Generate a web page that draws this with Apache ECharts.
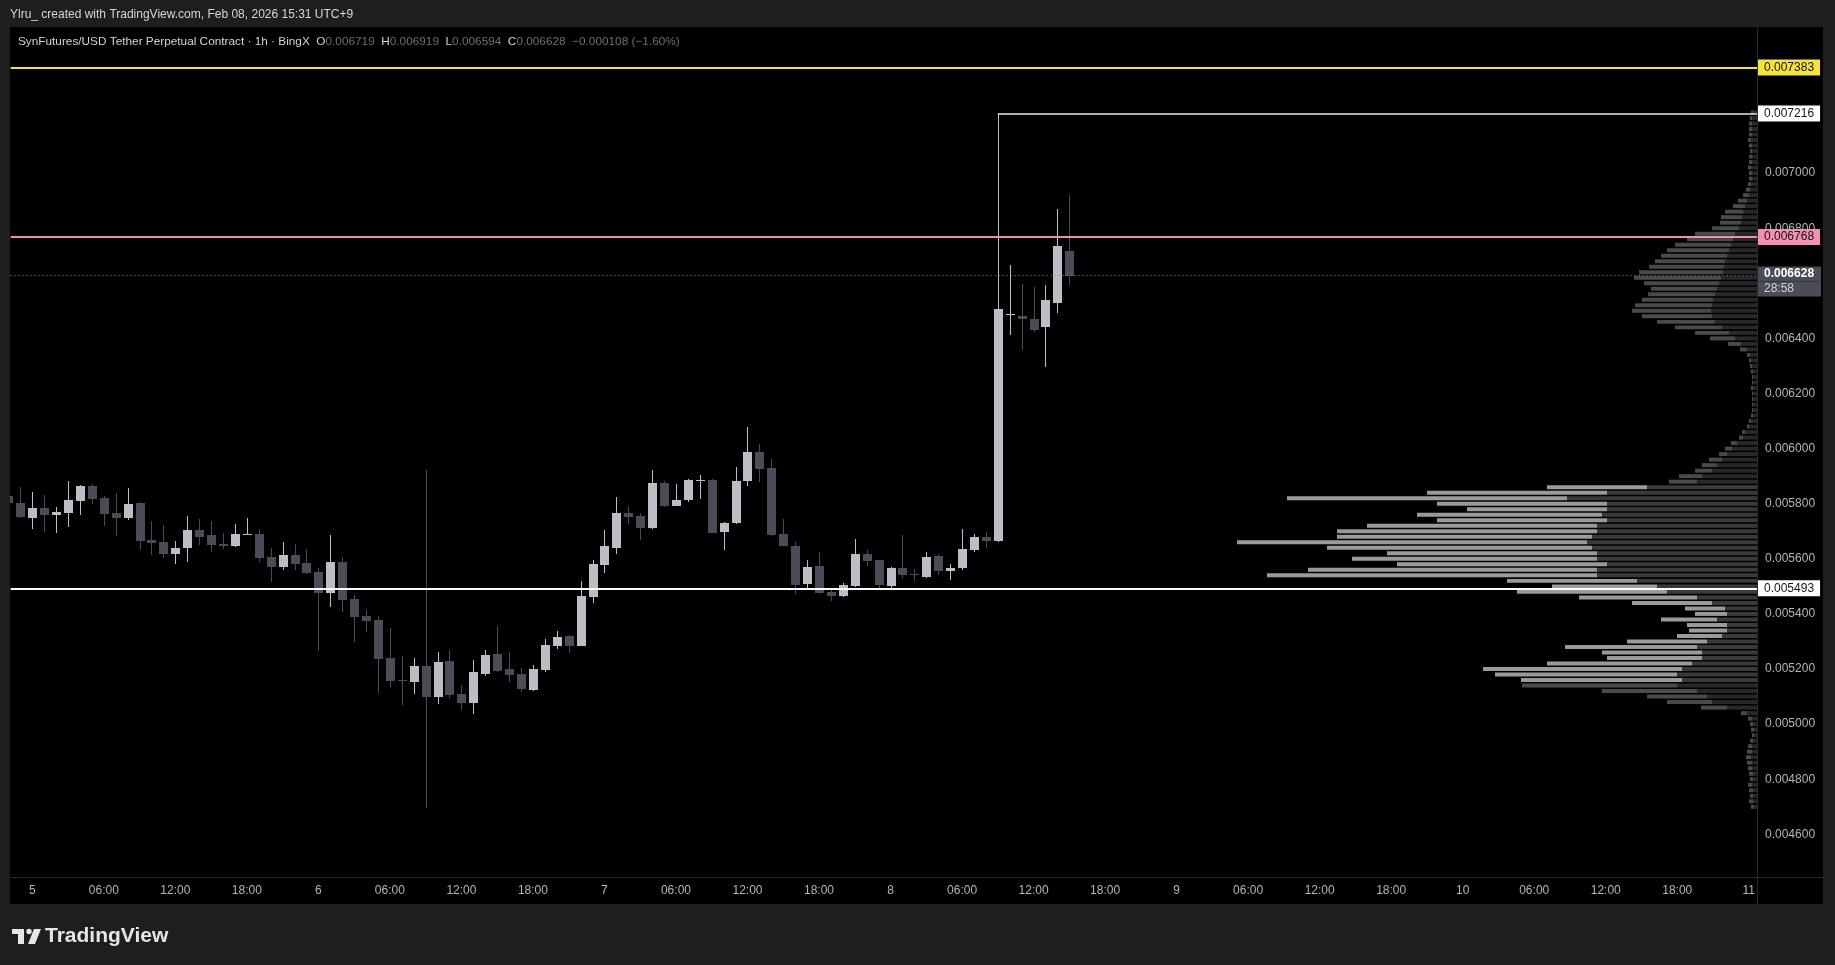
<!DOCTYPE html>
<html>
<head>
<meta charset="utf-8">
<title>SynFutures/USD Tether Perpetual Contract · 1h</title>
<script src="https://cdn.jsdelivr.net/npm/echarts@6/dist/echarts.min.js"></script>
<style>
  html, body { margin: 0; padding: 0; background: #1e1e1e; }
  #chart { width: 1835px; height: 965px; }
</style>
</head>
<body>
<div id="chart"></div>
<script>
// hourly candles, x = hours from Feb 5 00:00 (UTC+9); first candle is Feb 4 22:00
const firstHour = -2;
const opens = [
  0.005828, 0.005803, 0.005749, 0.005783, 0.005760, 0.005768, 0.005811, 0.005864, 0.005821, 0.005766,
  0.005748, 0.005803, 0.005668, 0.005661, 0.005618, 0.005639, 0.005705, 0.005687, 0.005654, 0.005647,
  0.005687, 0.005690, 0.005607, 0.005570, 0.005614, 0.005585, 0.005552, 0.005476, 0.005589, 0.005454,
  0.005393, 0.005378, 0.005240, 0.005162, 0.005154, 0.005211, 0.005100, 0.005229, 0.005109, 0.005078,
  0.005182, 0.005255, 0.005200, 0.005182, 0.005124, 0.005197, 0.005284, 0.005320, 0.005284, 0.005461,
  0.005578, 0.005639, 0.005766, 0.005755, 0.005712, 0.005875, 0.005792, 0.005813, 0.005882, 0.005886,
  0.005697, 0.005730, 0.005882, 0.005988, 0.005930, 0.005690, 0.005647, 0.005509, 0.005574, 0.005480,
  0.005465, 0.005501, 0.005618, 0.005596, 0.005501, 0.005567, 0.005544, 0.005534, 0.005610, 0.005557,
  0.005567, 0.005632, 0.005679, 0.005665, 0.006486, 0.006481, 0.006470, 0.006443, 0.006530, 0.006719
];
const closes = [
  0.005801, 0.005753, 0.005783, 0.005760, 0.005770, 0.005814, 0.005864, 0.005818, 0.005764, 0.005749,
  0.005799, 0.005666, 0.005659, 0.005618, 0.005639, 0.005705, 0.005679, 0.005650, 0.005648, 0.005690,
  0.005690, 0.005603, 0.005570, 0.005614, 0.005581, 0.005549, 0.005476, 0.005589, 0.005452, 0.005390,
  0.005376, 0.005238, 0.005158, 0.005158, 0.005211, 0.005100, 0.005226, 0.005106, 0.005078, 0.005189,
  0.005251, 0.005193, 0.005178, 0.005128, 0.005200, 0.005287, 0.005316, 0.005284, 0.005465, 0.005581,
  0.005647, 0.005766, 0.005752, 0.005712, 0.005875, 0.005792, 0.005813, 0.005886, 0.005886, 0.005694,
  0.005730, 0.005882, 0.005988, 0.005926, 0.005686, 0.005647, 0.005505, 0.005570, 0.005476, 0.005465,
  0.005505, 0.005618, 0.005592, 0.005505, 0.005567, 0.005541, 0.005540, 0.005607, 0.005556, 0.005567,
  0.005636, 0.005679, 0.005665, 0.006507, 0.006489, 0.006472, 0.006431, 0.006539, 0.006736, 0.006628
];
const lows = [
  0.005798, 0.005749, 0.005707, 0.005699, 0.005695, 0.005717, 0.005759, 0.005800, 0.005719, 0.005683,
  0.005741, 0.005632, 0.005614, 0.005604, 0.005583, 0.005589, 0.005650, 0.005625, 0.005636, 0.005643,
  0.005685, 0.005589, 0.005516, 0.005560, 0.005560, 0.005545, 0.005266, 0.005426, 0.005407, 0.005298,
  0.005336, 0.005112, 0.005136, 0.005069, 0.005109, 0.004697, 0.005073, 0.005096, 0.005051, 0.005037,
  0.005175, 0.005189, 0.005153, 0.005118, 0.005122, 0.005189, 0.005273, 0.005258, 0.005282, 0.005441,
  0.005549, 0.005618, 0.005726, 0.005668, 0.005710, 0.005788, 0.005790, 0.005806, 0.005817, 0.005692,
  0.005632, 0.005726, 0.005864, 0.005879, 0.005683, 0.005645, 0.005472, 0.005487, 0.005472, 0.005447,
  0.005461, 0.005498, 0.005574, 0.005490, 0.005494, 0.005530, 0.005520, 0.005530, 0.005541, 0.005523,
  0.005559, 0.005625, 0.005639, 0.005662, 0.006412, 0.006357, 0.006425, 0.006297, 0.006493, 0.006594
];
const highs = [
  0.005834, 0.005862, 0.005841, 0.005832, 0.005787, 0.005883, 0.005868, 0.005872, 0.005828, 0.005840,
  0.005857, 0.005806, 0.005737, 0.005723, 0.005665, 0.005756, 0.005745, 0.005737, 0.005694, 0.005726,
  0.005748, 0.005708, 0.005639, 0.005661, 0.005654, 0.005636, 0.005567, 0.005687, 0.005607, 0.005469,
  0.005414, 0.005393, 0.005349, 0.005247, 0.005240, 0.005922, 0.005262, 0.005269, 0.005141, 0.005233,
  0.005269, 0.005356, 0.005262, 0.005204, 0.005215, 0.005309, 0.005338, 0.005322, 0.005520, 0.005596,
  0.005705, 0.005824, 0.005792, 0.005766, 0.005922, 0.005882, 0.005872, 0.005890, 0.005904, 0.005888,
  0.005734, 0.005933, 0.006078, 0.006017, 0.005962, 0.005745, 0.005661, 0.005596, 0.005625, 0.005494,
  0.005512, 0.005672, 0.005632, 0.005597, 0.005570, 0.005686, 0.005563, 0.005625, 0.005618, 0.005581,
  0.005708, 0.005690, 0.005697, 0.007216, 0.006666, 0.006598, 0.006588, 0.006594, 0.006870, 0.006919
];

// time axis ticks (hours from Feb 5 00:00) and their labels
const tickHours = [0, 6, 12, 18, 24, 30, 36, 42, 48, 54, 60, 66, 72, 78, 84, 90, 96, 102, 108, 114, 120, 126, 132, 138, 144];
const tickLabels = ['5', '06:00', '12:00', '18:00', '6', '06:00', '12:00', '18:00', '7', '06:00', '12:00', '18:00',
  '8', '06:00', '12:00', '18:00', '9', '06:00', '12:00', '18:00', '10', '06:00', '12:00', '18:00', '11'];
const priceTicks = [0.0046, 0.0048, 0.0050, 0.0052, 0.0054, 0.0056, 0.0058, 0.0060, 0.0062, 0.0064, 0.0068, 0.0070];

// visible range volume profile, rows from 0.00470 up every 0.00002
const vpStart = 0.00470;
const vpStep = 0.00002;
const vpTotal = [
  6, 8, 7, 8, 9, 7, 8, 9, 10, 11, 10, 9, 7, 5, 6, 7, 9,
  16, 56, 90, 110, 155, 235, 236, 262, 274,
  210, 150, 155, 192, 130, 80, 68, 70, 96, 62, 72, 125, 178, 240, 205, 250,
  490, 449, 360, 405, 370, 430, 520, 420, 420, 390, 320, 340, 290, 320, 470, 330, 210,
  88, 78, 62, 55, 48, 38, 32, 26, 18, 15, 10, 8,
  6, 5, 5, 5, 5, 6, 5, 5, 6, 7, 8, 10,
  17, 29, 47, 62, 82, 100, 115, 125, 122, 115, 109, 106, 113, 123, 118, 108, 102, 96, 90, 82,
  70, 62, 45, 37, 36, 32, 24, 19, 14, 11,
  9, 8, 8, 9, 8, 8, 7, 8, 9, 8, 8, 8, 7, 6
];
const vpNear = [
  3, 4, 4, 4, 5, 4, 4, 5, 5, 6, 5, 5, 4, 3, 3, 4, 5,
  10, 30, 45, 50, 60, 80, 75, 80, 75,
  65, 55, 55, 60, 50, 35, 30, 30, 40, 30, 32, 45, 60, 90, 100, 120,
  160, 160, 150, 160, 160, 165, 170, 165, 160, 160, 150, 155, 150, 150, 190, 150, 110,
  60, 55, 45, 40, 35, 30, 25, 20, 14, 12, 8, 6,
  4, 4, 4, 4, 4, 4, 4, 4, 4, 5, 6, 7,
  10, 16, 22, 28, 35, 42, 45, 46, 45, 44, 42, 40, 38, 36, 34, 33, 32, 30, 28, 26,
  24, 22, 18, 16, 15, 14, 12, 10, 8, 7,
  6, 5, 5, 6, 5, 5, 5, 5, 6, 5, 5, 5, 5, 4
];
const vpValueArea = [0.00516, 0.00586];

// horizontal levels
const yellowLevel = 0.007383;
const rayLevel = 0.007216;
const rayStartHour = 81;
const pinkLevel = 0.006768;
const whiteLevel = 0.005493;
const lastPrice = 0.006628;
const countdown = '28:58';

const xMin = -1.81, xMax = 144.69;
const yMin = 0.0044452, yMax = 0.0075302;
const font = '"Liberation Sans", Arial, sans-serif';

const upColor = '#bcbec6';
const downColor = '#4a4c58';

const candleData = opens.map((o, i) => [firstHour + i, o, closes[i], lows[i], highs[i]]);
const profileData = vpTotal.map((t, i) => [t, +(vpStart + i * vpStep).toFixed(5), vpNear[i]]);

function renderCandle(params, api) {
  const h = api.value(0), o = api.value(1), c = api.value(2), lo = api.value(3), hi = api.value(4);
  const up = c >= o;
  const pO = api.coord([h, o]), pC = api.coord([h, c]);
  const pL = api.coord([h, lo]), pH = api.coord([h, hi]);
  const cx = Math.round(pO[0]);
  let top = Math.round(Math.min(pO[1], pC[1]));
  let bot = Math.round(Math.max(pO[1], pC[1]));
  if (bot - top < 1) bot = top + 1;
  const col = up ? upColor : downColor;
  return {
    type: 'group',
    children: [
      { type: 'rect', shape: { x: cx, y: Math.round(pH[1]), width: 1, height: Math.round(pL[1]) - Math.round(pH[1]) }, style: { fill: col } },
      { type: 'rect', shape: { x: cx - 4, y: top, width: 9, height: bot - top }, style: { fill: col } }
    ]
  };
}

function renderProfile(params, api) {
  const total = api.value(0), price = api.value(1), near = api.value(2);
  const pR = api.coord([0, price]);
  const pM = api.coord([near, price]);
  const pT = api.coord([total, price]);
  const hgt = Math.max(2, Math.abs(api.size([0, vpStep])[1]) * 0.72);
  const inVA = price >= vpValueArea[0] - 1e-9 && price <= vpValueArea[1] + 1e-9;
  const y = pR[1] - hgt / 2;
  return {
    type: 'group',
    children: [
      { type: 'rect', shape: { x: pT[0], y: y, width: pM[0] - pT[0], height: hgt }, style: { fill: inVA ? '#9a9a9c' : '#4a4a4d' } },
      { type: 'rect', shape: { x: pM[0], y: y, width: pR[0] - pM[0], height: hgt }, style: { fill: inVA ? '#3a3a3d' : '#28282b' } }
    ]
  };
}

function levelLabel(text, bg, fg) {
  return {
    show: true, position: 'end', formatter: text, backgroundColor: bg, color: fg,
    padding: [2, 6], fontSize: 12, lineHeight: 12, fontFamily: font, distance: 1
  };
}

// a horizontal line from hour x0 to the right edge of the plot
function hLine(price, x0, lineStyle, label) {
  return [
    { coord: [x0, price], lineStyle: lineStyle, label: label },
    { coord: [xMax, price] }
  ];
}

const last = opens.length - 1;
const change = closes[last] - closes[last - 1];
const legend = '{t|SynFutures/USD Tether Perpetual Contract · 1h · BingX}  ' +
  '{k|O}{v|' + opens[last].toFixed(6) + '}  {k|H}{v|' + highs[last].toFixed(6) + '}  ' +
  '{k|L}{v|' + lows[last].toFixed(6) + '}  {k|C}{v|' + closes[last].toFixed(6) + '}  ' +
  '{v|' + (change < 0 ? '−' : '+') + Math.abs(change).toFixed(6) + ' (' + (change < 0 ? '−' : '+') +
  Math.abs(change / closes[last - 1] * 100).toFixed(2) + '%)}';

const chart = echarts.init(document.getElementById('chart'));
chart.setOption({
  backgroundColor: '#1e1e1e',
  animation: false,
  textStyle: { fontFamily: font },
  grid: { left: 10.7, right: 78, top: 27, bottom: 88 },
  xAxis: [{
    type: 'value', min: xMin, max: xMax,
    axisLine: { show: false }, axisTick: { show: false }, splitLine: { show: false },
    axisLabel: {
      customValues: tickHours, color: '#b2b5be', fontSize: 12, margin: 8, fontFamily: font,
      formatter: v => tickLabels[tickHours.indexOf(v)]
    }
  }, {
    type: 'value', inverse: true, min: 0, max: 1746.3, show: false
  }],
  yAxis: {
    type: 'value', position: 'right', min: yMin, max: yMax,
    axisLine: { show: false }, axisTick: { show: false }, splitLine: { show: false },
    axisLabel: {
      customValues: priceTicks, color: '#b2b5be', fontSize: 12, margin: 8, fontFamily: font,
      formatter: v => v.toFixed(6)
    }
  },
  graphic: [
    { type: 'rect', z: -10, silent: true, shape: { x: 10, y: 27, width: 1813, height: 877 }, style: { fill: '#000' } },
    { type: 'rect', z: -9, silent: true, shape: { x: 10, y: 877, width: 1813, height: 1 }, style: { fill: '#2a2a2a' } },
    { type: 'rect', z: -9, silent: true, shape: { x: 1757, y: 27, width: 1, height: 877 }, style: { fill: '#2a2a2a' } },
    { type: 'text', x: 10, y: 15, silent: true, style: {
      text: 'Ylru_ created with TradingView.com, Feb 08, 2026 15:31 UTC+9',
      fill: '#d6d6d6', fontSize: 12, fontFamily: font, verticalAlign: 'middle' } },
    { type: 'text', x: 18, y: 42, silent: true, z: 20, style: {
      text: legend, verticalAlign: 'middle', fontSize: 11.8, fontFamily: font,
      rich: {
        t: { fill: '#d1d4dc', fontSize: 11.8, fontFamily: font },
        k: { fill: '#d1d4dc', fontSize: 11.8, fontFamily: font },
        v: { fill: '#6b6e78', fontSize: 11.8, fontFamily: font }
      } } },
    { type: 'group', silent: true, children: [
      { type: 'rect', shape: { x: 12, y: 929, width: 12, height: 5 }, style: { fill: '#e6e6e6' } },
      { type: 'rect', shape: { x: 18, y: 929, width: 6, height: 15 }, style: { fill: '#e6e6e6' } },
      { type: 'circle', shape: { cx: 29, cy: 931.5, r: 2.7 }, style: { fill: '#e6e6e6' } },
      { type: 'polygon', shape: { points: [[34, 929], [41, 929], [35, 944], [28, 944]] }, style: { fill: '#e6e6e6' } },
      { type: 'text', x: 45, y: 936.5, style: { text: 'TradingView', fill: '#e6e6e6', fontSize: 21, fontWeight: 'bold', fontFamily: font, verticalAlign: 'middle' } }
    ] }
  ],
  series: [{
    name: 'Volume profile', type: 'custom', xAxisIndex: 1, yAxisIndex: 0, z: 1,
    clip: true, silent: true,
    encode: { x: 0, y: 1 },
    renderItem: renderProfile,
    data: profileData
  }, {
    name: 'SynFutures/USD', type: 'custom', xAxisIndex: 0, yAxisIndex: 0, z: 2,
    clip: true, silent: true,
    encode: { x: 0, y: [1, 2, 3, 4] },
    renderItem: renderCandle,
    data: candleData,
    markLine: {
      symbol: 'none', silent: true, animation: false, z: 5,
      data: [
        hLine(yellowLevel, xMin, { color: '#f5e23b', width: 2, type: 'solid' },
          levelLabel(yellowLevel.toFixed(6), '#f5e23b', '#131313')),
        hLine(rayLevel, rayStartHour, { color: '#e8e8e8', width: 1.5, type: 'solid' },
          levelLabel(rayLevel.toFixed(6), '#ffffff', '#131313')),
        hLine(pinkLevel, xMin, { color: '#f48fb1', width: 2, type: 'solid' },
          levelLabel(pinkLevel.toFixed(6), '#f48fb1', '#131313')),
        hLine(lastPrice, xMin, { color: '#8a8d96', width: 1, type: [1, 3] }, {
          show: true, position: 'end', distance: 1, fontFamily: font,
          formatter: '{s| }\n{a|' + lastPrice.toFixed(6) + '}\n{b|' + countdown + '}',
          rich: {
            s: { lineHeight: 12, height: 12, fontSize: 10 },
            a: { backgroundColor: '#4a4d57', color: '#ffffff', fontWeight: 'bold', fontSize: 12,
                 lineHeight: 15, height: 15, width: 51, padding: [0, 6], fontFamily: font },
            b: { backgroundColor: '#4a4d57', color: '#d1d4dc', fontSize: 12,
                 lineHeight: 15, height: 15, width: 51, padding: [0, 6], fontFamily: font }
          }
        }),
        hLine(whiteLevel, xMin, { color: '#ffffff', width: 2, type: 'solid' },
          levelLabel(whiteLevel.toFixed(6), '#ffffff', '#131313'))
      ]
    }
  }]
});
</script>
</body>
</html>
